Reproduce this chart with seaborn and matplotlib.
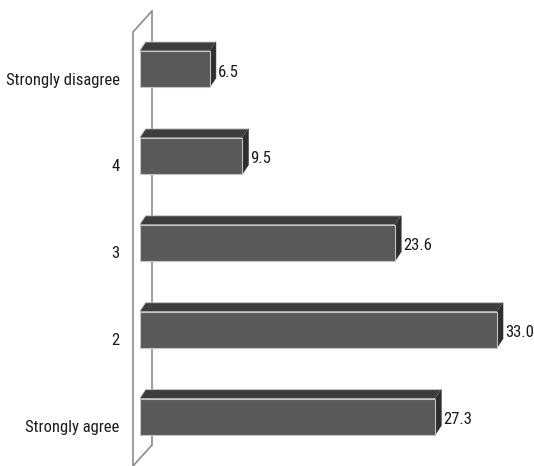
import matplotlib
matplotlib.use("Agg")
import matplotlib.pyplot as plt
import seaborn as sns
import pandas as pd
from matplotlib import font_manager
from matplotlib.patches import Polygon
from matplotlib.lines import Line2D

# Survey responses (percent of respondents)
categories = ["Strongly disagree", "4", "3", "2", "Strongly agree"]
values = [6.5, 9.5, 23.6, 33.0, 27.3]

sns.set_theme(style="white")
plt.rcParams["font.family"] = ["DejaVu Sans"]


def pick_label_font():
    """Prefer a narrow/condensed regular face; fall back to Roboto."""
    files = [f for f in font_manager.fontManager.ttflist]
    for key in ("LiberationSansNarrow-Regular", "RobotoCondensed-Regular",
                "DejaVuSansCondensed.", "OpenSans_Condensed-Regular",
                "NotoSans-CondensedRegular", "Condensed-Regular", "Condensed."):
        for f in files:
            if key in f.fname.replace(" ", ""):
                return font_manager.FontProperties(fname=f.fname), 12
    return font_manager.FontProperties(family="Roboto"), 11


label_font, label_size = pick_label_font()
label_font.set_size(label_size)

W, H = 534, 466
DPI = 100
fig = plt.figure(figsize=(W / DPI, H / DPI), dpi=DPI, facecolor="white")
ax_left, ax_width = 139.5, 390.0
ax = fig.add_axes([ax_left / W, 0, ax_width / W, 1])

df = pd.DataFrame({"response": categories, "percent": values})
sns.barplot(data=df, x="percent", y="response", orient="h", order=categories,
            color="#595959", saturation=1, width=0.414,
            edgecolor="#c4c4c4", linewidth=0.8, ax=ax, zorder=3)

ax.set_xlim(0, 36)
ax.set_ylim(4.568, -0.794)
ax.axis("off")

# pixel depth of the extruded bars converted to data units
x_per_px = 36 / ax_width
y_per_px = (4.568 + 0.794) / H
dx = 6 * x_per_px
dy = 9 * y_per_px

for bar in ax.patches[:len(values)]:
    y0 = bar.get_y()
    h = bar.get_height()
    w = bar.get_width()
    top = Polygon([(0, y0), (w, y0), (w + dx, y0 - dy), (dx, y0 - dy)],
                  closed=True, facecolor="#3d3d3d", edgecolor="#c4c4c4",
                  linewidth=0.6, zorder=2.5)
    side = Polygon([(w, y0), (w + dx, y0 - dy), (w + dx, y0 + h - dy), (w, y0 + h)],
                   closed=True, facecolor="#2e2e2e", edgecolor="#2e2e2e",
                   linewidth=0.4, zorder=2.5)
    ax.add_patch(top)
    ax.add_patch(side)


# side wall outline
def px(x, y):
    return ((x - ax_left) / ax_width, 1 - y / H)


wall = [
    [(133, 32), (133, 466)],
    [(152, 11), (152, 445)],
    [(133, 32), (152, 11)],
    [(133, 466), (152, 445)],
]
for seg in wall:
    (xa, ya), (xb, yb) = px(*seg[0]), px(*seg[1])
    ax.add_line(Line2D([xa, xb], [ya, yb], transform=ax.transAxes,
                       color="#8c8c8c", linewidth=1.2, clip_on=False, zorder=1))

pt_per_px = 72 / DPI
for i, (cat, val) in enumerate(zip(categories, values)):
    ax.annotate(cat, xy=(0, i), xytext=(-20 * pt_per_px, -11 * pt_per_px),
                textcoords="offset points", ha="right", va="center",
                fontproperties=label_font, color="#1a1a1a", annotation_clip=False)
    ax.annotate(f"{val:.1f}", xy=(val, i), xytext=(8 * pt_per_px, -3 * pt_per_px),
                textcoords="offset points", ha="left", va="center",
                fontproperties=label_font, color="#1a1a1a", annotation_clip=False)

fig.savefig("out.png", dpi=DPI, facecolor="white")
